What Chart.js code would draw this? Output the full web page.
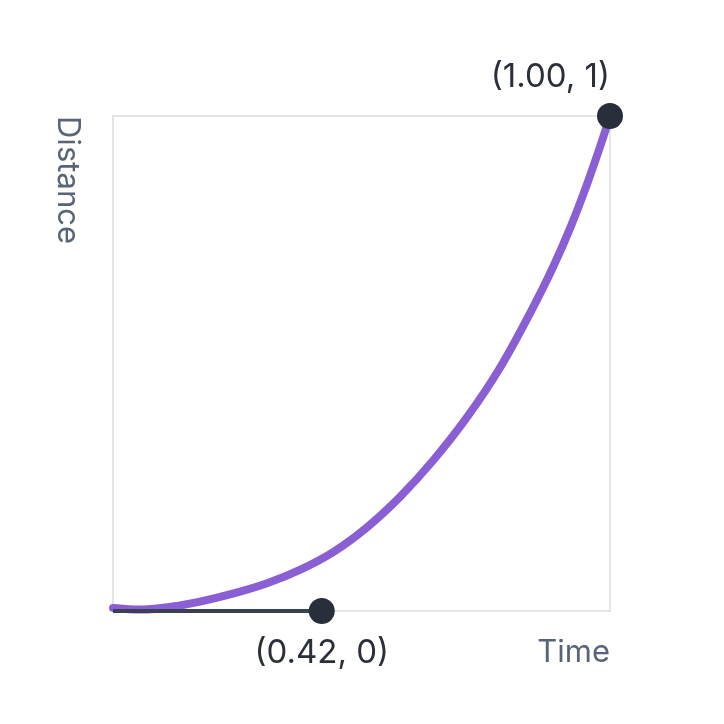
<!DOCTYPE html>
<html>
<head>
<meta charset="utf-8">
<script src="https://cdn.jsdelivr.net/npm/chart.js@4.4.1/dist/chart.umd.min.js"></script>
<style>
  html, body { margin: 0; padding: 0; background: #fff; }
  #wrap { width: 724px; height: 724px; }
</style>
</head>
<body>
<div id="wrap"><canvas id="easeChart" width="724" height="724"></canvas></div>
<script>
// values
const curveTime = [0, 0.06, 0.12, 0.175, 0.241, 0.31, 0.376, 0.443, 0.511, 0.577, 0.644, 0.712, 0.779, 0.845, 0.885, 0.92, 0.954, 0.986, 1];
const curveDistance = [0.006, 0.003, 0.009, 0.019, 0.035, 0.056, 0.083, 0.119, 0.169, 0.23, 0.304, 0.391, 0.492, 0.613, 0.694, 0.774, 0.863, 0.956, 1];

// control handle (start -> first control point)
const handleTime = [0, 0.42];
const handleDistance = [0, 0];

// marked points and their labels
const markTime = [0.42, 1];
const markDistance = [0, 1];
const markLabels = ['(0.42, 0)', '(1.00, 1)'];

const xTitle = 'Time';
const yTitle = 'Distance';

const toPoints = (xs, ys) => xs.map((x, i) => ({ x: x, y: ys[i] }));

// frame, axis titles and point labels
const decorPlugin = {
    id: 'decor',
    beforeDatasetsDraw(chart) {
        const { ctx, chartArea } = chart;
        ctx.save();
        ctx.strokeStyle = '#e2e5ea';
        ctx.lineWidth = 2;
        ctx.strokeRect(chartArea.left, chartArea.top, chartArea.right - chartArea.left, chartArea.bottom - chartArea.top);
        ctx.restore();
    },
    afterDatasetsDraw(chart) {
        const { ctx, chartArea, scales } = chart;
        ctx.save();
        ctx.font = '31px Inter, "Open Sans", sans-serif';
        ctx.fillStyle = '#5a6478';
        ctx.textAlign = 'right';
        ctx.textBaseline = 'middle';
        ctx.fillText(xTitle, chartArea.right, chartArea.bottom + 42);

        ctx.save();
        ctx.translate(chartArea.left - 46, chartArea.top);
        ctx.rotate(Math.PI / 2);
        ctx.textAlign = 'left';
        ctx.fillText(yTitle, 0, 0);
        ctx.restore();

        ctx.font = '33px Inter, "Open Sans", sans-serif';
        ctx.fillStyle = '#2a2f3a';
        markLabels.forEach((label, i) => {
            const px = scales.x.getPixelForValue(markTime[i]);
            const py = scales.y.getPixelForValue(markDistance[i]);
            if (markDistance[i] === 0) {
                ctx.textAlign = 'center';
                ctx.fillText(label, px, py + 42);
            } else {
                ctx.textAlign = 'right';
                ctx.fillText(label, px, py - 39);
            }
        });
        ctx.restore();
    }
};

new Chart(document.getElementById('easeChart'), {
    type: 'scatter',
    data: {
        datasets: [
            {
                data: toPoints(markTime, markDistance),
                backgroundColor: '#282e3a',
                borderWidth: 0,
                pointRadius: 13,
                pointHoverRadius: 13,
                showLine: false,
                clip: false,
                order: 0
            },
            {
                data: toPoints(handleTime, handleDistance),
                borderColor: '#3a4150',
                borderWidth: 4,
                pointRadius: 0,
                showLine: true,
                clip: false,
                order: 1
            },
            {
                data: toPoints(curveTime, curveDistance),
                borderColor: '#8a5fd3',
                borderWidth: 8,
                borderCapStyle: 'round',
                pointRadius: 0,
                showLine: true,
                cubicInterpolationMode: 'monotone',
                clip: false,
                order: 2
            }
        ]
    },
    options: {
        responsive: false,
        animation: false,
        layout: { padding: { left: 113, top: 116, right: 114, bottom: 113 } },
        plugins: {
            legend: { display: false },
            tooltip: { enabled: false }
        },
        scales: {
            x: {
                type: 'linear', min: 0, max: 1,
                ticks: { display: false },
                grid: { display: false, drawTicks: false },
                border: { display: false }
            },
            y: {
                type: 'linear', min: 0, max: 1,
                ticks: { display: false },
                grid: { display: false, drawTicks: false },
                border: { display: false }
            }
        }
    },
    plugins: [decorPlugin]
});
</script>
</body>
</html>
